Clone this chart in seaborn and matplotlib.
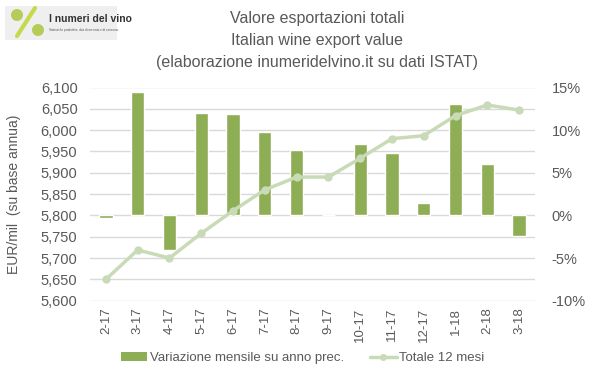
import matplotlib
matplotlib.use("Agg")
import matplotlib.pyplot as plt
import seaborn as sns
import pandas as pd
import numpy as np
from matplotlib.ticker import FuncFormatter, MultipleLocator
from matplotlib.patches import FancyBboxPatch, Circle
from matplotlib.lines import Line2D
from matplotlib.patches import Patch

months = ["2-17", "3-17", "4-17", "5-17", "6-17", "7-17", "8-17", "9-17",
          "10-17", "11-17", "12-17", "1-18", "2-18", "3-18"]
var_mensile = [-0.3, 14.5, -4.0, 12.0, 11.9, 9.8, 7.7, 0.1,
               8.4, 7.3, 1.4, 13.1, 6.0, -2.4]
totale_12 = [5650, 5719, 5700, 5758, 5811, 5860, 5890, 5890,
             5934, 5980, 5987, 6034, 6059, 6047]

bar_color = "#8DAE55"
line_color = "#C9DAB7"
txt_color = "#595959"

sns.set_theme(style="white")
plt.rcParams['font.family'] = ['Liberation Sans', 'DejaVu Sans']

df = pd.DataFrame({"mese": months, "var": var_mensile, "tot": totale_12})

fig = plt.figure(figsize=(5.99, 3.78), dpi=100)
ax = fig.add_axes([90/599, 1-300.7/378, (535-90)/599, (300.7-87.5)/378])
ax2 = ax.twinx()

# bars (right axis, percent)
sns.barplot(data=df, x="mese", y="var", color=bar_color, width=0.42,
            saturation=1, ax=ax, zorder=3)
ax.set_ylim(-10, 15)
ax.yaxis.set_major_locator(MultipleLocator(5))
ax.yaxis.set_minor_locator(MultipleLocator(2.5))
ax.yaxis.tick_right()
ax.yaxis.set_label_position("right")
ax.yaxis.set_major_formatter(FuncFormatter(lambda v, p: f"{v:.0f}%"))
ax.grid(True, which="both", axis="y", color="#D9D9D9", linewidth=1, zorder=0)
ax.set_axisbelow(True)
ax.set_xlabel("")
ax.set_ylabel("")
ax.tick_params(axis="y", which="both", length=0, labelsize=10.5,
               colors=txt_color, pad=12)
ax.tick_params(axis="x", length=0, labelsize=9.5, colors=txt_color,
               labelrotation=90, pad=5)
ax.set_xlim(-0.5, 13.5)

# line (left axis)
sns.lineplot(data=df, x="mese", y="tot", color=line_color, linewidth=2.5,
             marker="o", markersize=6, markeredgewidth=0, sort=False, ax=ax2)
ax2.set_ylim(5600, 6100)
ax2.yaxis.set_major_locator(MultipleLocator(50))
ax2.yaxis.tick_left()
ax2.yaxis.set_label_position("left")
ax2.yaxis.set_major_formatter(FuncFormatter(lambda v, p: f"{v:,.0f}"))
ax2.set_ylabel("EUR/mil  (su base annua)", color=txt_color, fontsize=10, labelpad=14)
ax2.set_xlabel("")
ax2.tick_params(axis="y", length=0, labelsize=10.5, colors=txt_color, pad=9)
ax2.tick_params(axis="x", length=0)
ax2.set_xlim(-0.5, 13.5)
if ax2.get_legend():
    ax2.get_legend().remove()

for a in (ax, ax2):
    for s in a.spines.values():
        s.set_visible(False)

# titles
fig.text(0.53, 1-18/378, "Valore esportazioni totali", ha="center", va="center",
         fontsize=11.5, color=txt_color)
fig.text(0.53, 1-41/378, "Italian wine export value", ha="center", va="center",
         fontsize=11.5, color=txt_color)
fig.text(0.53, 1-63/378, "(elaborazione inumeridelvino.it su dati ISTAT)",
         ha="center", va="center", fontsize=11.5, color=txt_color)

# legend
handles = [Patch(facecolor=bar_color, edgecolor="none"),
           Line2D([0], [0], color=line_color, linewidth=2.5, marker="o",
                  markersize=5, markeredgewidth=0)]
fig.legend(handles, ["Variazione mensile su anno prec.", "Totale 12 mesi"],
           loc="center", bbox_to_anchor=(0.505, 1-358/378), ncol=2,
           frameon=False, fontsize=9.5, labelcolor=txt_color,
           handlelength=2.0, handletextpad=0.2, columnspacing=2.0)

# logo
lax = fig.add_axes([5/599, 1-42/378, 112/599, 38/378])
lax.set_xlim(0, 112)
lax.set_ylim(0, 38)
lax.axis("off")
lax.add_patch(FancyBboxPatch((0, 2), 112, 34, boxstyle="square,pad=0",
                             facecolor="#EFEFEF", edgecolor="none"))
lax.plot([12, 30], [6, 34], color="#C6D94A", linewidth=3)
lax.add_patch(Circle((12, 27), 6, facecolor="#B5CC5A", edgecolor="none"))
lax.add_patch(Circle((33, 12), 6, facecolor="#B5CC5A", edgecolor="none"))
lax.text(44, 23, "I numeri del vino", fontsize=7.5, color="#333333",
         va="center", ha="left", fontweight="bold")
lax.text(44, 12, "Statistiche produttive, dati di mercato e di consumo",
         fontsize=2.2, color="#555555", va="center", ha="left")

fig.savefig("out.png", dpi=100)
